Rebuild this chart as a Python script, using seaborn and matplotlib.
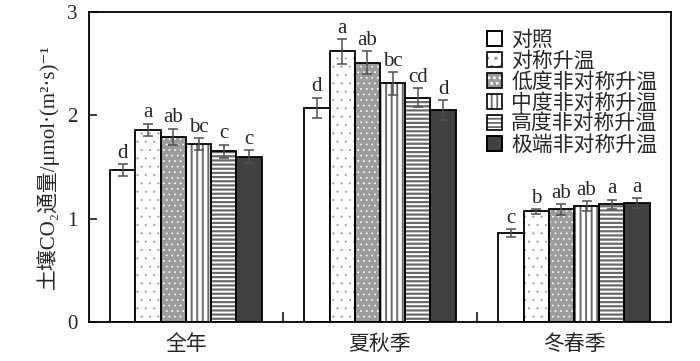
import matplotlib
matplotlib.use("Agg")
import numpy as np
import pandas as pd
import seaborn as sns
import matplotlib.pyplot as plt
from matplotlib.patches import Rectangle, Patch
from matplotlib.legend_handler import HandlerTuple

# ---------------- data ----------------
seasons = ['全年', '夏秋季', '冬春季']
treatments = ['对照', '对称升温', '低度非对称升温', '中度非对称升温', '高度非对称升温', '极端非对称升温']

annual_mean = [1.47, 1.86, 1.79, 1.72, 1.65, 1.60]
annual_err = [0.06, 0.06, 0.08, 0.06, 0.065, 0.06]
annual_letters = ['d', 'a', 'ab', 'bc', 'c', 'c']

summer_mean = [2.07, 2.62, 2.51, 2.31, 2.17, 2.05]
summer_err = [0.10, 0.12, 0.11, 0.11, 0.09, 0.095]
summer_letters = ['d', 'a', 'ab', 'bc', 'cd', 'd']

winter_mean = [0.86, 1.07, 1.09, 1.12, 1.14, 1.15]
winter_err = [0.035, 0.025, 0.05, 0.05, 0.045, 0.045]
winter_letters = ['c', 'b', 'ab', 'ab', 'a', 'a']

y_ticks = [0, 1, 2, 3]
y_label = '土壤CO₂通量/μmol·(m²·s)⁻¹'

means = [annual_mean, summer_mean, winter_mean]
errs = [annual_err, summer_err, winter_err]
letters = [annual_letters, summer_letters, winter_letters]

rows = []
for s, season in enumerate(seasons):
    for t, trt in enumerate(treatments):
        rows.append({'season': season, 'treatment': trt, 'value': means[s][t]})
df = pd.DataFrame(rows)

# ---------------- style ----------------
sns.set_style('ticks')
LATIN = ['Liberation Serif', 'Noto Sans CJK SC', 'DejaVu Sans']
CJK = ['Noto Sans CJK SC', 'DejaVu Sans']
plt.rcParams['font.family'] = LATIN
plt.rcParams['hatch.linewidth'] = 1.3

# face, hatch, hatch colour, hatch linewidth
styles = [
    ('white', None, None, 1.0),
    ('white', '..', '#9a9a9a', 0.3),
    ('#9c9c9c', '...', 'white', 0.5),
    ('white', '|||', '#6a6a6a', 1.4),
    ('white', '----', '#6a6a6a', 1.6),
    ('#404040', None, None, 1.0),
]


def set_hlw(patch, lw):
    if hasattr(patch, 'set_hatch_linewidth'):
        patch.set_hatch_linewidth(lw)
    else:
        patch._hatch_linewidth = lw


fig = plt.figure(figsize=(7.0, 3.61), dpi=100)
ax = fig.add_axes([0.127, 0.108, 0.8316, 0.859])

sns.barplot(data=df, x='season', y='value', hue='treatment', order=seasons,
            hue_order=treatments, width=0.78, errorbar=None,
            palette=[s[0] for s in styles],
            edgecolor='black', linewidth=1.3, legend=False, ax=ax)

bar_containers = list(ax.containers)
for t, cont in enumerate(bar_containers):
    face, hatch, hcol, hlw = styles[t]
    for s, p in enumerate(cont.patches):
        p.set_facecolor(face)
        if hatch:
            p.set_hatch(hatch)
            p.set_edgecolor(hcol)
            p.set_linewidth(0)
            set_hlw(p, hlw)
            ax.add_patch(Rectangle((p.get_x(), p.get_y()), p.get_width(), p.get_height(),
                                   fill=False, edgecolor='black', linewidth=1.3,
                                   zorder=p.get_zorder() + 0.1))
        x = p.get_x() + p.get_width() / 2
        y = p.get_height()
        e = errs[s][t]
        ax.errorbar(x, y, yerr=e, fmt='none', ecolor='#505050', elinewidth=1.1,
                    capsize=3.5, capthick=1.1, zorder=6)
        ax.annotate(letters[s][t], (x, y + e), xytext=(0, 4.5), textcoords='offset points',
                    ha='center', va='baseline', fontsize=15, family=LATIN)

# axes
ax.set_ylim(0, 3)
ax.set_xlim(-0.5, 2.5)
ax.set_yticks(y_ticks)
ax.set_yticklabels([str(v) for v in y_ticks], family=LATIN, fontsize=15)
ax.set_xticks(range(len(seasons)))
ax.set_xticklabels(seasons, family=CJK, fontsize=15)
ax.set_xticks([0.5, 1.5], minor=True)
ax.tick_params(axis='x', which='major', length=0, pad=8)
ax.tick_params(axis='x', which='minor', direction='in', length=7, width=1.3)
ax.tick_params(axis='y', which='major', direction='in', length=6, width=1.3, pad=8)
ax.set_xlabel('')
ax.set_ylabel(y_label, family=LATIN, fontsize=15, labelpad=6)
for sp in ax.spines.values():
    sp.set_visible(True)
    sp.set_linewidth(1.3)
    sp.set_color('black')

# legend
handles = []
for face, hatch, hcol, hlw in styles:
    base = Patch(facecolor=face, hatch=hatch, edgecolor=hcol if hatch else 'black',
                 linewidth=0 if hatch else 1.2)
    if hatch:
        set_hlw(base, hlw)
    outline = Patch(fill=False, edgecolor='black', linewidth=1.2)
    handles.append((base, outline))
leg = ax.legend(handles, treatments, handler_map={tuple: HandlerTuple(ndivide=1)},
                loc='upper left', bbox_to_anchor=(0.67, 0.972), frameon=False,
                prop={'family': CJK, 'size': 15}, handlelength=0.7, handleheight=0.7,
                handletextpad=0.45, labelspacing=-0.05, borderaxespad=0)

fig.savefig('out.png', dpi=100)
